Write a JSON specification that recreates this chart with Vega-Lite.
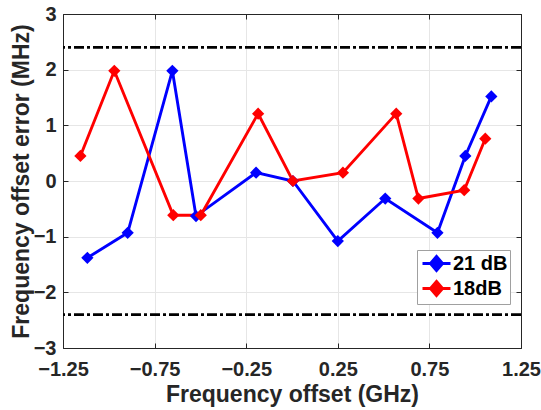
{
  "$schema": "https://vega.github.io/schema/vega-lite/v6.json",
  "width": 458,
  "height": 334,
  "autosize": "none",
  "padding": {"left": 63, "top": 14, "right": 20, "bottom": 62},
  "background": "white",
  "config": {
    "view": {"stroke": "#262626", "strokeWidth": 1},
    "font": "Liberation Sans",
    "axis": {
      "labelFont": "Liberation Sans",
      "labelFontWeight": "bold",
      "labelFontSize": 20,
      "labelColor": "#262626",
      "labelFlush": false,
      "titleFont": "Liberation Sans",
      "titleFontWeight": "bold",
      "titleFontSize": 23,
      "titleColor": "#262626",
      "domainColor": "#262626",
      "tickColor": "#262626",
      "gridColor": "#e6e6e6",
      "gridWidth": 1,
      "tickSize": -5
    }
  },
  "datasets": {
    "pts": [
      {"series": "21 dB", "x": -1.117, "y": -1.38},
      {"series": "21 dB", "x": -0.897, "y": -0.93},
      {"series": "21 dB", "x": -0.653, "y": 1.98},
      {"series": "21 dB", "x": -0.524, "y": -0.63},
      {"series": "21 dB", "x": -0.196, "y": 0.15},
      {"series": "21 dB", "x": 0.005, "y": 0.0},
      {"series": "21 dB", "x": 0.25, "y": -1.08},
      {"series": "21 dB", "x": 0.509, "y": -0.315},
      {"series": "21 dB", "x": 0.794, "y": -0.93},
      {"series": "21 dB", "x": 0.946, "y": 0.45},
      {"series": "21 dB", "x": 1.088, "y": 1.52},
      {"series": "18dB", "x": -1.155, "y": 0.45},
      {"series": "18dB", "x": -0.97, "y": 1.98},
      {"series": "18dB", "x": -0.648, "y": -0.615},
      {"series": "18dB", "x": -0.498, "y": -0.615},
      {"series": "18dB", "x": -0.185, "y": 1.21},
      {"series": "18dB", "x": 0.005, "y": 0.0},
      {"series": "18dB", "x": 0.278, "y": 0.15},
      {"series": "18dB", "x": 0.569, "y": 1.21},
      {"series": "18dB", "x": 0.69, "y": -0.315},
      {"series": "18dB", "x": 0.94, "y": -0.165},
      {"series": "18dB", "x": 1.055, "y": 0.76}
    ],
    "lim": [{"y": 2.4}, {"y": -2.4}]
  },
  "resolve": {"axis": {"x": "independent", "y": "independent"}},
  "layer": [
    {
      "data": {"name": "pts"},
      "mark": {"type": "point", "opacity": 0},
      "encoding": {
        "x": {"field": "x", "type": "quantitative", "scale": {"domain": [-1.25, 1.25], "nice": false, "zero": false},
          "axis": {"orient": "top", "labels": false, "title": null, "grid": false, "values": [-1.25, -0.75, -0.25, 0.25, 0.75, 1.25]}},
        "y": {"field": "y", "type": "quantitative", "scale": {"domain": [-3, 3], "nice": false, "zero": false},
          "axis": {"orient": "right", "labels": false, "title": null, "grid": false, "values": [-3, -2, -1, 0, 1, 2, 3]}}
      }
    },
    {
      "data": {"name": "pts"},
      "mark": {"type": "line", "strokeWidth": 2.9},
      "encoding": {
        "x": {"field": "x", "type": "quantitative",
          "axis": {"orient": "bottom", "title": "Frequency offset (GHz)", "values": [-1.25, -0.75, -0.25, 0.25, 0.75, 1.25], "format": ".2f", "labelPadding": 16, "titlePadding": 4, "grid": true}},
        "y": {"field": "y", "type": "quantitative",
          "axis": {"orient": "left", "title": "Frequency offset error (MHz)", "values": [-3, -2, -1, 0, 1, 2, 3], "labelPadding": 12, "titlePadding": 0, "grid": true}},
        "color": {"field": "series", "type": "nominal",
          "scale": {"domain": ["21 dB", "18dB"], "range": ["#0000ff", "#ff0000"]},
          "legend": {
            "title": null,
            "orient": "none",
            "legendX": 354,
            "legendY": 236,
            "direction": "vertical",
            "symbolType": "M-0.8,0L2.0,0M0.6,-0.7L1.2,0L0.6,0.7L0,0Z",
            "symbolSize": 400,
            "symbolStrokeWidth": 3,
            "symbolOpacity": 1,
            "labelFont": "Liberation Sans",
            "labelFontWeight": "bold",
            "labelFontSize": 20,
            "labelColor": "#000000",
            "labelOffset": 11,
            "padding": 2,
            "rowPadding": -6,
            "strokeColor": "#a0a0a0",
            "fillColor": "white",
            "encode": {"symbols": {"update": {"stroke": {"scale": "color", "field": "value"}, "fill": {"scale": "color", "field": "value"}}}}
          }},
        "order": {"field": "x", "type": "quantitative"}
      }
    },
    {
      "data": {"name": "pts"},
      "mark": {"type": "point", "shape": "diamond", "filled": true, "size": 150, "opacity": 1},
      "encoding": {
        "x": {"field": "x", "type": "quantitative", "axis": null},
        "y": {"field": "y", "type": "quantitative", "axis": null},
        "color": {"field": "series", "type": "nominal"}
      }
    },
    {
      "data": {"name": "lim"},
      "mark": {"type": "rule", "color": "black", "strokeWidth": 2.6, "strokeDash": [10, 3, 3, 3]},
      "encoding": {"y": {"field": "y", "type": "quantitative", "axis": null}}
    }
  ]
}
